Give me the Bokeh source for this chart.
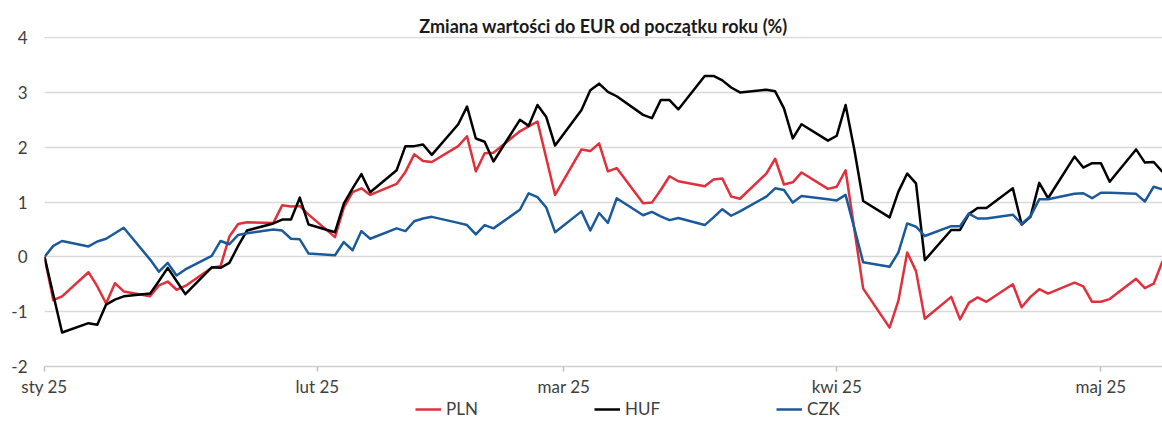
from datetime import datetime
from bokeh.plotting import figure
from bokeh.layouts import column
from bokeh.models import (Range1d, FixedTicker, CustomJSTickFormatter, Legend,
                          LegendItem, ColumnDataSource)
from bokeh.embed import file_html
from bokeh.resources import INLINE

# ---- data -------------------------------------------------------------
title_text = "Zmiana wartości do EUR od początku roku (%)"
month_labels = ["sty", "lut", "mar", "kwi", "maj", "cze", "lip", "sie", "wrz", "paź", "lis", "gru"]
year = 2025
tick_months = [1, 2, 3, 4, 5]

# trading days per month
days_jan = [1, 2, 3, 6, 7, 8, 9, 10, 13, 14, 15, 16, 17, 20, 21, 22, 23, 24, 27, 28, 29, 30, 31]
days_feb = [3, 4, 5, 6, 7, 10, 11, 12, 13, 14, 17, 18, 19, 20, 21, 24, 25, 26, 27, 28]
days_mar = [3, 4, 5, 6, 7, 10, 11, 12, 13, 14, 17, 18, 19, 20, 21, 24, 25, 26, 27, 28, 31]
days_apr = [1, 2, 3, 4, 7, 8, 9, 10, 11, 14, 15, 16, 17, 18, 21, 22, 23, 24, 25, 28, 29, 30]
days_may = [1, 2, 5, 6, 7, 8]

pln = [0, -0.79, -0.72, -0.28, -0.54, -0.85, -0.48, -0.63, -0.72, -0.52, -0.45, -0.60, -0.53,
       -0.20, -0.17, 0.37, 0.60, 0.63, 0.62, 0.94, 0.92, 0.93, 0.77,
       0.36, 0.90, 1.18, 1.25, 1.13, 1.33, 1.55, 1.87, 1.75, 1.73, 2.02, 2.20, 1.56, 1.89, 1.90,
       2.29, 2.38, 2.47, 1.80, 1.13,
       1.96, 1.93, 2.07, 1.56, 1.62, 0.98, 0.99, 1.22, 1.47, 1.38, 1.29, 1.41, 1.43, 1.10, 1.06,
       1.52, 1.79, 1.32, 1.36, 1.54, 1.24,
       1.28, 1.58, 0.50, -0.58, -1.29, -0.80, 0.08, -0.26, -1.13, -0.73, -1.14, -0.84, -0.74,
       -0.82, -0.50, -0.92, -0.73, -0.59, -0.67, -0.47, -0.54, -0.82,
       -0.82, -0.77, -0.40, -0.57, -0.49, -0.08]

huf = [0, -0.69, -1.38, -1.21, -1.24, -0.87, -0.78, -0.72, -0.67, -0.44, -0.20, -0.44, -0.68,
       -0.19, -0.20, -0.11, 0.20, 0.48, 0.61, 0.68, 0.68, 1.08, 0.59,
       0.45, 0.97, 1.25, 1.51, 1.18, 1.58, 2.02, 2.02, 2.05, 1.86, 2.42, 2.74, 2.16, 2.10, 1.74,
       2.50, 2.39, 2.77, 2.55, 2.03,
       2.68, 3.04, 3.16, 3.01, 2.93, 2.59, 2.53, 2.86, 2.86, 2.69, 3.30, 3.30, 3.22, 3.09, 3.00,
       3.05, 3.02, 2.71, 2.16, 2.42, 2.12,
       2.21, 2.77, 1.95, 1.02, 0.72, 1.19, 1.52, 1.34, -0.06, 0.49, 0.49, 0.78, 0.89, 0.89,
       1.25, 0.59, 0.73, 1.35, 1.07, 1.83, 1.63, 1.71,
       1.71, 1.37, 1.96, 1.72, 1.73, 1.55]

czk = [0, 0.20, 0.29, 0.19, 0.28, 0.33, 0.43, 0.53, -0.05, -0.27, -0.11, -0.34, -0.23,
       0.02, 0.29, 0.23, 0.40, 0.43, 0.50, 0.48, 0.33, 0.32, 0.06,
       0.03, 0.27, 0.12, 0.47, 0.33, 0.52, 0.47, 0.65, 0.70, 0.73, 0.62, 0.58, 0.41, 0.58, 0.52,
       0.86, 1.16, 1.09, 0.90, 0.45,
       0.83, 0.48, 0.80, 0.62, 1.07, 0.76, 0.82, 0.74, 0.67, 0.71, 0.58, 0.72, 0.87, 0.75, 0.83,
       1.10, 1.25, 1.22, 0.99, 1.11, 1.05,
       1.03, 1.13, 0.52, -0.10, -0.18, 0.08, 0.61, 0.55, 0.38, 0.56, 0.56, 0.79, 0.70, 0.70,
       0.77, 0.60, 0.74, 1.05, 1.05, 1.15, 1.16, 1.07,
       1.17, 1.17, 1.15, 1.01, 1.28, 1.23]

series_names = ["PLN", "HUF", "CZK"]
series_colors = ["#E0303C", "#000000", "#1B5A9A"]
y_ticks = [-2, -1, 0, 1, 2, 3, 4]
y_tick_labels = ["-2", "-1", "0", "1", "2", "3", "4"]

# ---- build ------------------------------------------------------------
dates = ([datetime(year, 1, d) for d in days_jan] + [datetime(year, 2, d) for d in days_feb] +
         [datetime(year, 3, d) for d in days_mar] + [datetime(year, 4, d) for d in days_apr] +
         [datetime(year, 5, d) for d in days_may])
src = ColumnDataSource(dict(date=dates, PLN=pln, HUF=huf, CZK=czk))

def ms(d):
    return (d - datetime(1970, 1, 1)).total_seconds() * 1000.0

FONT = "Lato"
TXT = "#404040"
W = 1162

p = figure(width=W, height=399, x_axis_type="datetime",
           x_range=Range1d(ms(dates[0]), ms(dates[-1])), y_range=Range1d(-2, 4.02),
           output_backend="svg", toolbar_location=None,
           min_border_left=44, min_border_right=0, min_border_top=36, min_border_bottom=31)
p.outline_line_color = None
p.background_fill_color = "white"
p.border_fill_color = "white"

p.title.text = title_text
p.title.align = "center"
p.title.text_font = FONT
p.title.text_font_style = "bold"
p.title.text_font_size = "18px"
p.title.text_color = "#1a1a1a"
p.title.standoff = 0

p.xgrid.grid_line_color = None
p.ygrid.grid_line_color = "#d9d9d9"
p.ygrid.grid_line_width = 1.5
p.yaxis.ticker = FixedTicker(ticks=y_ticks)
p.yaxis.major_label_overrides = dict(zip(y_ticks, y_tick_labels))
p.yaxis.axis_line_color = None
p.yaxis.major_tick_line_color = None
p.yaxis.minor_tick_line_color = None
p.yaxis.major_tick_out = 0
p.yaxis.major_tick_in = 0
p.yaxis.major_label_standoff = 17
p.yaxis.major_label_text_font = FONT
p.yaxis.major_label_text_font_size = "17px"
p.yaxis.major_label_text_color = TXT

p.xaxis.ticker = FixedTicker(ticks=[ms(datetime(year, m, 1)) for m in tick_months])
p.xaxis.formatter = CustomJSTickFormatter(args=dict(names=month_labels), code="""
    const d = new Date(tick);
    return names[d.getUTCMonth()] + " " + String(d.getUTCFullYear()).slice(2);
""")
p.xaxis.axis_line_color = "#d0d0d0"
p.xaxis.axis_line_width = 1.5
p.xaxis.major_tick_line_color = "#bfbfbf"
p.xaxis.major_tick_line_width = 1.5
p.xaxis.major_tick_out = 5
p.xaxis.major_tick_in = 0
p.xaxis.minor_tick_line_color = None
p.xaxis.major_label_standoff = 4
p.xaxis.major_label_text_font = FONT
p.xaxis.major_label_text_font_size = "17px"
p.xaxis.major_label_text_color = TXT

for name, col in zip(series_names, series_colors):
    p.line("date", name, source=src, line_color=col, line_width=2.5, line_join="round")

# ---- legend strip below the chart ------------------------------------
# same series drawn out of view so the legend gets real glyph renderers
lg = figure(width=W, height=22, x_axis_type="datetime",
            x_range=Range1d(ms(dates[0]), ms(dates[-1])), y_range=Range1d(100, 101),
            output_backend="svg", toolbar_location=None,
            min_border_left=44, min_border_right=0, min_border_top=0, min_border_bottom=0)
lg.axis.visible = False
lg.grid.visible = False
lg.outline_line_color = None
items = []
for name, col in zip(series_names, series_colors):
    r = lg.line("date", name, source=src, line_color=col, line_width=2.5)
    items.append(LegendItem(label=name, renderers=[r]))
legend = Legend(items=items, orientation="horizontal", location=(371, 2),
                spacing=116, glyph_width=26, glyph_height=18, label_standoff=5,
                padding=0, margin=0, border_line_color=None, background_fill_alpha=0,
                label_text_font=FONT, label_text_font_size="17px", label_text_color=TXT,
                label_height=18)
lg.add_layout(legend, "center")

layout = column(p, lg, spacing=0)
open("out.html", "w").write(file_html(layout, INLINE))
